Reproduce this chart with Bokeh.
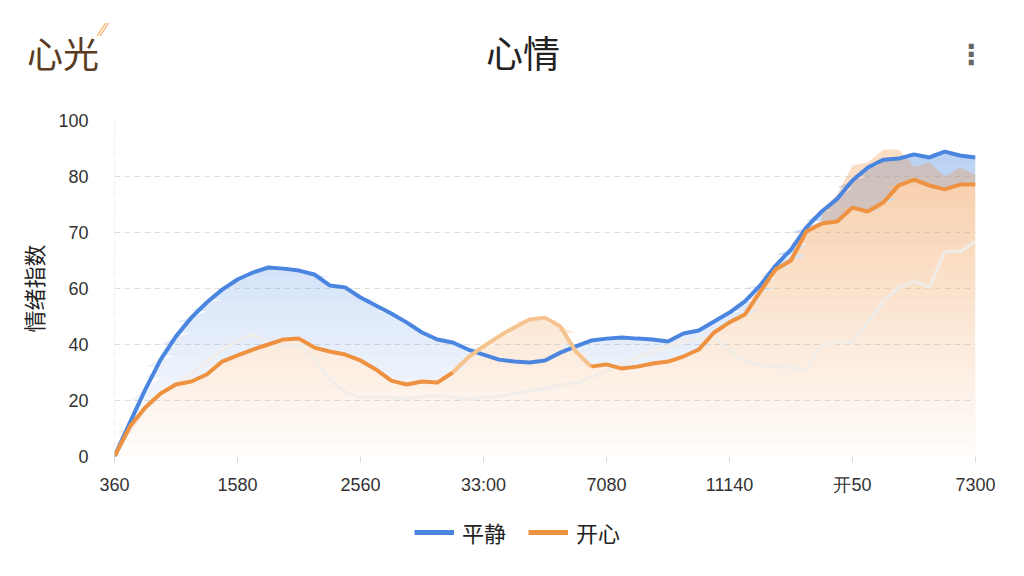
import numpy as np
from bokeh.plotting import figure
from bokeh.layouts import column
from bokeh.models import Div, Legend, LegendItem, Span, FixedTicker
from bokeh.embed import file_html
from bokeh.resources import INLINE

# x positions are the eight category slots (0..7), sampled every 1/8 slot
x_labels = ["360", "1580", "2560", "33:00", "7080", "11140", "开50", "7300"]
y_tick_labels = ["0", "20", "40", "60", "70", "80", "100"]

calm_vals = [0, 12.1, 23.9, 34.6, 42.9, 49.6, 55.0, 59.6, 63.2, 65.7,
             67.5, 67.1, 66.4, 65.0, 61.1, 60.4, 56.8, 53.9, 51.1, 47.9,
             44.3, 41.8, 40.7, 38.2, 36.4, 34.6, 33.9, 33.6, 34.3, 37.1,
             39.3, 41.4, 42.1, 42.5, 42.1, 41.8, 41.1, 43.9, 45.0, 48.2,
             51.4, 55.4, 61.1, 68.2, 73.9, 81.8, 87.5, 92.0, 98.6, 103.2,
             106.0, 106.4, 107.9, 106.8, 108.9, 107.5, 106.8]

happy_vals = [0, 10.7, 17.5, 22.5, 25.7, 26.8, 29.3, 33.9, 36.1, 38.2,
              40.0, 41.8, 42.1, 38.9, 37.5, 36.4, 34.3, 31.1, 27.1, 25.7,
              26.8, 26.4, 30.0, 35.4, 39.3, 42.9, 46.1, 48.9, 49.6, 46.4,
              37.5, 32.1, 32.9, 31.4, 32.1, 33.2, 33.9, 35.7, 38.2, 44.3,
              47.9, 50.7, 58.9, 66.8, 70.0, 80.4, 83.2, 83.9, 88.9, 87.5,
              90.7, 96.8, 98.9, 96.8, 95.4, 97.1, 97.1]

# faint pale trace behind the two series
faint_vals = [0, 9.6, 16.8, 22.1, 26.4, 29.3, 33.9, 38.2, 41.1, 43.6,
              40.7, 39.6, 39.6, 34.6, 27.5, 22.9, 21.1, 21.1, 21.1, 20.7,
              21.4, 21.8, 21.1, 20.4, 21.1, 21.4, 22.5, 23.6, 24.3, 25.4,
              26.4, 28.2, 30.4, 32.9, 35.4, 37.5, 39.3, 41.1, 42.1, 42.5,
              38.2, 33.9, 32.5, 32.1, 31.8, 31.1, 40.0, 40.7, 40.7, 47.9,
              55.4, 60.4, 62.5, 60.4, 73.2, 73.2, 76.8]

# orange haze peaks on the right (from slot 5.75 to 7)
haze_vals = [88.0, 93.6, 103.9, 105.0, 109.6, 109.6, 103.6, 105.0, 100.0, 103.2, 100.7]

xs = np.arange(len(calm_vals)) / 8.0
calm = np.array(calm_vals)
happy = np.array(happy_vals)
faint = np.array(faint_vals)
haze = np.array(haze_vals)
haze_x = xs[46:]

BLUE = "#4a86e0"
ORANGE = "#ee9241"
W = 1008

header = Div(width=W, height=100, text="""
<div style="position:relative;width:1008px;height:100px;font-family:'Noto Sans CJK SC';">
  <span style="position:absolute;left:22px;top:27px;font-size:36px;line-height:40px;color:#5a3b1f;">心光</span>
  <span style="position:absolute;left:95px;top:14px;font-size:18px;line-height:18px;font-weight:bold;color:#f29a3a;">&#x2044;&#x2044;</span>
  <span style="position:absolute;left:468px;top:27px;width:100px;text-align:center;font-size:37px;line-height:40px;color:#222;">心情</span>
  <span style="position:absolute;left:952px;top:32px;width:20px;text-align:center;font-size:28px;line-height:36px;font-weight:bold;color:#666;font-family:'DejaVu Sans';">&#x22EE;</span>
</div>""")

p = figure(width=W, height=394, x_range=(0, 7), y_range=(0, 120),
           output_backend="svg", toolbar_location=None,
           min_border_left=114, min_border_right=33,
           min_border_top=10, min_border_bottom=48)
p.outline_line_color = None
p.background_fill_color = "white"
p.border_fill_color = "white"


def fade_band(x, lower, upper, color, a_top, a_bottom, n=30):
    # horizontal bands so the fill fades toward the bottom of the chart
    edges = np.linspace(0, 120, n + 1)
    for lo, hi in zip(edges[:-1], edges[1:]):
        a = a_bottom + (a_top - a_bottom) * ((lo + hi) / 2 / 120)
        y1 = np.clip(lower, lo, hi)
        y2 = np.maximum(np.clip(upper, lo, hi), y1)
        p.varea(x=x, y1=y1, y2=y2, fill_color=color, fill_alpha=a)


fade_band(xs, happy, calm, BLUE, 0.42, 0.0)
fade_band(xs, np.zeros_like(happy), happy, ORANGE, 0.52, 0.02)
p.varea(x=haze_x, y1=happy[46:], y2=np.maximum(haze, happy[46:]),
        fill_color=ORANGE, fill_alpha=0.3)

p.line(xs, faint, line_color="#f1ece8", line_width=3.5, line_alpha=0.9)

p.line(xs, calm, line_color=BLUE, line_width=4)
p.line(xs[:23], happy[:23], line_color=ORANGE, line_width=4)
p.line(xs[22:32], happy[22:32], line_color="#f6c38f", line_width=4)
p.line(xs[31:], happy[31:], line_color=ORANGE, line_width=4)

# axes
p.xaxis.ticker = FixedTicker(ticks=list(range(len(x_labels))))
p.xaxis.major_label_overrides = {i: s for i, s in enumerate(x_labels)}
p.yaxis.ticker = FixedTicker(ticks=[0, 20, 40, 60, 80, 100, 120])
p.yaxis.major_label_overrides = {v: s for v, s in zip([0, 20, 40, 60, 80, 100, 120], y_tick_labels)}
for ax in (p.xaxis, p.yaxis):
    ax.axis_line_color = None
    ax.minor_tick_line_color = None
    ax.major_label_text_font = "Liberation Sans"
    ax.major_label_text_font_size = "18px"
    ax.major_label_text_color = "#333333"
p.xaxis.major_tick_line_color = "#d8d8d8"
p.xaxis.major_tick_in = 0
p.xaxis.major_tick_out = 6
p.xaxis.major_label_standoff = 12
p.yaxis.major_tick_line_color = None
p.yaxis.major_label_standoff = 20
p.yaxis.axis_label = "情绪指数"
p.yaxis.axis_label_text_font = "Noto Sans CJK SC"
p.yaxis.axis_label_text_font_size = "22px"
p.yaxis.axis_label_text_font_style = "normal"
p.yaxis.axis_label_text_color = "#222222"
p.yaxis.axis_label_standoff = 6

p.xgrid.grid_line_color = None
p.ygrid.grid_line_color = "#dedede"
p.ygrid.grid_line_dash = "6 4"
p.add_layout(Span(location=0, dimension="height", line_color="#dedede",
                  line_dash="6 4", line_width=1))

# legend strip under the chart (its own small canvas, keys drawn off-range;
# its frame lines up with the main chart's frame)
leg = figure(width=W, height=55, x_range=(0, 1), y_range=(0, 1),
             output_backend="svg", toolbar_location=None,
             x_axis_type=None, y_axis_type=None, min_border=0)
leg.outline_line_color = None
leg.grid.grid_line_color = None
calm_key = leg.line([-3, -2], [-3, -2], line_color=BLUE, line_width=5)
happy_key = leg.line([-3, -2], [-3, -2], line_color=ORANGE, line_width=5)
legend = Legend(items=[LegendItem(label="平静", renderers=[calm_key]),
                       LegendItem(label="开心", renderers=[happy_key])],
                orientation="horizontal", location=(300, 11),
                border_line_color=None, background_fill_alpha=0,
                label_text_font="Noto Sans CJK SC", label_text_font_size="22px",
                label_text_color="#222222", glyph_width=40, label_standoff=8,
                spacing=22, padding=4, margin=0)
leg.add_layout(legend)

layout = column(header, p, leg, spacing=0)
open("out.html", "w").write(file_html(layout, INLINE))
